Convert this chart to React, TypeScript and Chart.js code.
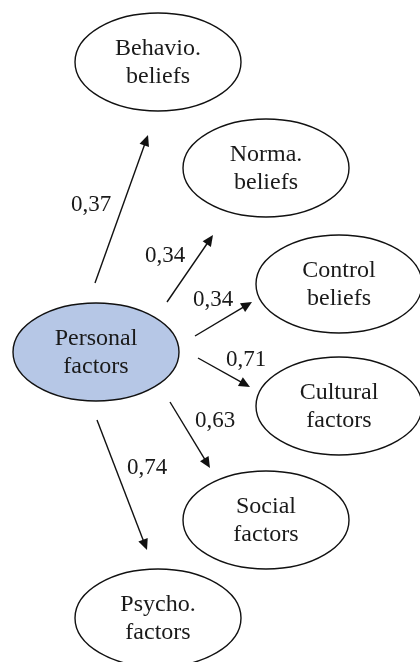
import React, { useEffect, useRef } from "react";
import { Chart, registerables } from "chart.js";

Chart.register(...registerables);

// Nodes (diagram coordinates, y grows downward)
const nodeLine1 = ["Behavio.", "Norma.", "Control", "Personal", "Cultural", "Social", "Psycho."];
const nodeLine2 = ["beliefs", "beliefs", "beliefs", "factors", "factors", "factors", "factors"];
const nodeX = [158, 266, 339, 96, 339, 266, 158];
const nodeY = [62, 168, 284, 352, 406, 520, 618];
const nodeHighlighted = [false, false, false, true, false, false, false];

// Paths from Personal factors: coefficient, arrow start and end
const pathCoef = ["0,37", "0,34", "0,34", "0,71", "0,63", "0,74"];
const arrowFromX = [95, 167, 195, 198, 170, 97];
const arrowFromY = [283, 302, 336, 358, 402, 420];
const arrowToX = [148, 213, 252, 250, 210, 147];
const arrowToY = [135, 235, 302, 387, 468, 550];
const coefX = [91, 165, 213, 246, 215, 147];
const coefY = [205, 256, 300, 360, 421, 468];

const RX = 83;
const RY = 49;
const FONT = "Liberation Serif, 'Times New Roman', serif";

export default function App() {
  const ref = useRef<HTMLCanvasElement>(null);
  useEffect(() => {
    document.body.style.margin = "0";
    const canvas = ref.current!;
    const HEAD = 11;
    const datasets = pathCoef.map((c, i) => {
      const dx = arrowToX[i] - arrowFromX[i];
      const dy = arrowToY[i] - arrowFromY[i];
      const len = Math.hypot(dx, dy);
      const k = (len - HEAD + 1) / len;
      return {
        label: c,
        data: [
          { x: arrowFromX[i], y: arrowFromY[i] },
          { x: arrowFromX[i] + dx * k, y: arrowFromY[i] + dy * k },
        ],
        showLine: true,
        borderColor: "#111",
        borderWidth: 1.4,
        pointRadius: 0,
        fill: false,
      };
    });

    const diagramPlugin = {
      id: "diagram",
      beforeDatasetsDraw(chart: any) {
        const { ctx, scales } = chart;
        const sx = scales.x, sy = scales.y;
        ctx.save();
        nodeX.forEach((x, i) => {
          const px = sx.getPixelForValue(x);
          const py = sy.getPixelForValue(nodeY[i]);
          const rx = Math.abs(sx.getPixelForValue(x + RX) - px);
          const ry = Math.abs(sy.getPixelForValue(nodeY[i] + RY) - py);
          ctx.beginPath();
          ctx.ellipse(px, py, rx, ry, 0, 0, Math.PI * 2);
          ctx.fillStyle = nodeHighlighted[i] ? "#b6c7e6" : "#ffffff";
          ctx.fill();
          ctx.lineWidth = 1.4;
          ctx.strokeStyle = "#111";
          ctx.stroke();
          ctx.fillStyle = "#1a1a1a";
          ctx.font = `24px ${FONT}`;
          ctx.textAlign = "center";
          ctx.textBaseline = "middle";
          ctx.fillText(nodeLine1[i], px, py - 13.5);
          ctx.fillText(nodeLine2[i], px, py + 14.5);
        });
        ctx.restore();
      },
      afterDatasetsDraw(chart: any) {
        const { ctx, scales } = chart;
        const sx = scales.x, sy = scales.y;
        ctx.save();
        pathCoef.forEach((c, i) => {
          const fx = sx.getPixelForValue(arrowFromX[i]);
          const fy = sy.getPixelForValue(arrowFromY[i]);
          const tx = sx.getPixelForValue(arrowToX[i]);
          const ty = sy.getPixelForValue(arrowToY[i]);
          const a = Math.atan2(ty - fy, tx - fx);
          const w = 5;
          ctx.beginPath();
          ctx.moveTo(tx, ty);
          ctx.lineTo(tx - HEAD * Math.cos(a) + w * Math.sin(a), ty - HEAD * Math.sin(a) - w * Math.cos(a));
          ctx.lineTo(tx - HEAD * Math.cos(a) - w * Math.sin(a), ty - HEAD * Math.sin(a) + w * Math.cos(a));
          ctx.closePath();
          ctx.fillStyle = "#111";
          ctx.fill();
          ctx.fillStyle = "#1a1a1a";
          ctx.font = `23px ${FONT}`;
          ctx.textAlign = "center";
          ctx.textBaseline = "middle";
          ctx.fillText(c, sx.getPixelForValue(coefX[i]), sy.getPixelForValue(coefY[i]));
        });
        ctx.restore();
      },
    };

    const chart = new Chart(canvas, {
      type: "scatter",
      data: { datasets },
      options: {
        animation: false,
        responsive: false,
        maintainAspectRatio: false,
        layout: { padding: 0 },
        plugins: { legend: { display: false }, tooltip: { enabled: false } },
        scales: {
          x: { type: "linear", min: 0, max: 420, display: false },
          y: { type: "linear", min: 0, max: 662, reverse: true, display: false },
        },
      },
      plugins: [diagramPlugin],
    });
    return () => chart.destroy();
  }, []);
  return (
    <div style={{ width: 420, height: 662, background: "#fff" }}>
      <canvas ref={ref} width={420} height={662} style={{ display: "block" }} />
    </div>
  );
}
